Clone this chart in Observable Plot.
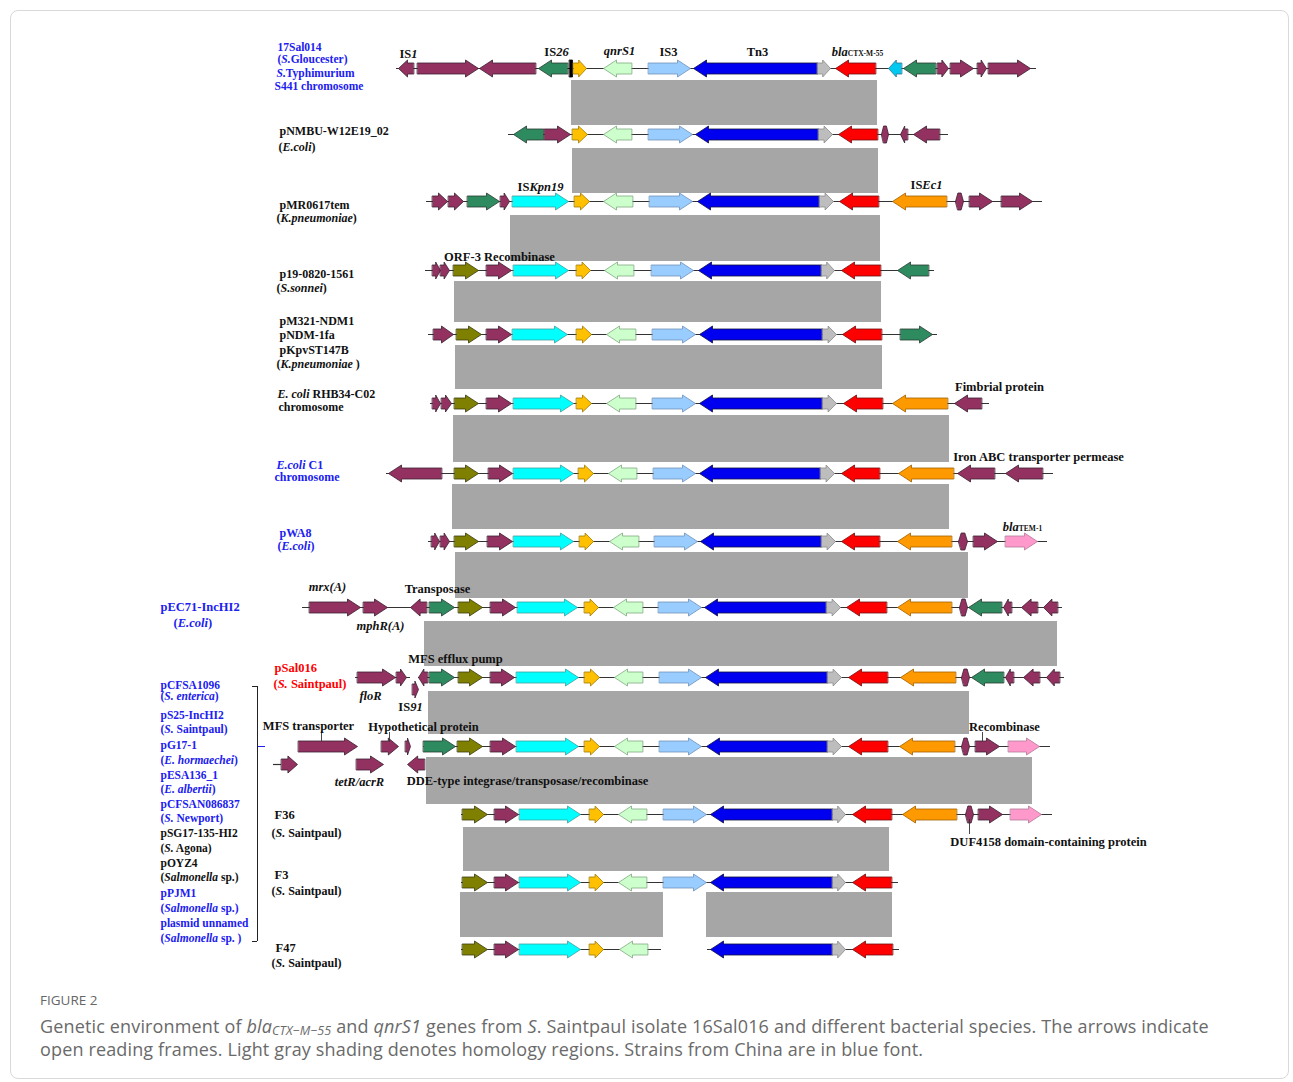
<!DOCTYPE html>
<html><head><meta charset="utf-8">
<script src="https://cdn.jsdelivr.net/npm/d3@7"></script>
<script src="https://cdn.jsdelivr.net/npm/@observablehq/plot@0.6"></script>
<style>
body{margin:0;background:#fff;}
#card{position:absolute;left:10px;top:10px;width:1279px;height:1069px;border:1px solid #d9d9d9;border-radius:8px;box-sizing:border-box;}
#chart{position:absolute;left:0;top:0;}
#fig{position:absolute;left:40px;top:992px;font-family:'Open Sans',sans-serif;font-size:13.5px;line-height:16px;color:#666;}
#cap{position:absolute;left:40px;top:1015px;font-family:'Open Sans',sans-serif;font-size:18px;letter-spacing:0.15px;line-height:23px;color:#6a6a6a;white-space:nowrap;}
#cap sub{font-size:12.5px;vertical-align:-2px;line-height:0;}
</style></head><body>
<div id="card"></div>
<div id="chart"></div>
<div id="fig">FIGURE 2</div>
<div id="cap">Genetic environment of <i>bla</i><sub><i>CTX−M−55</i></sub> and <i>qnrS1</i> genes from <i>S</i>. Saintpaul isolate 16Sal016 and different bacterial species. The arrows indicate<br>open reading frames. Light gray shading denotes homology regions. Strains from China are in blue font.</div>
<script>
// ---- track (row) positions ----
const rowY = [68, 134, 201, 270, 334, 403, 473, 541, 607, 677, 746, 814, 882, 949];

// ---- genes per row: [start, end, direction (1 right, -1 left, 2 both, 0 none), type, laneOffset] ----
const row0 = [[398,413,-1,"M"],[417,478,1,"M"],[479,535,-1,"M"],[538,567,-1,"G"],[569,572,0,"K"],[573,586,1,"Y"],[603,631,-1,"LG"],[648,690,1,"LB"],[693,817,-1,"B"],[817,830,1,"GR"],[835,875,-1,"R"],[888,901,-1,"SC"],[903,935,-1,"G"],[937,948,1,"M"],[950,973,1,"M"],[977,986,1,"M"],[988,1030,1,"M"]];
const row1 = [[513,543,-1,"G"],[544,570,1,"M"],[572,587,1,"Y"],[603,631,-1,"LG"],[648,692,1,"LB"],[695,818,-1,"B"],[818,832,1,"GR"],[838,877,-1,"R"],[881,888,2,"M"],[900,907,-1,"M"],[913,939,-1,"M"]];
const row2 = [[432,447,1,"M"],[448,463,1,"M"],[467,499,1,"G"],[500,509,1,"M"],[512,568,1,"C"],[574,589,1,"Y"],[603,632,-1,"LG"],[649,692,1,"LB"],[697,819,-1,"B"],[819,833,1,"GR"],[839,878,-1,"R"],[892,946,-1,"OR"],[955,963,2,"M"],[969,992,1,"M"],[1001,1032,1,"M"]];
const row3 = [[432,440,1,"M"],[440,449,1,"M"],[453,478,1,"O"],[486,511,1,"M"],[513,568,1,"C"],[576,590,1,"Y"],[604,633,-1,"LG"],[651,693,1,"LB"],[698,821,-1,"B"],[821,834,1,"GR"],[841,880,-1,"R"],[897,928,-1,"G"]];
const row4 = [[433,453,1,"M"],[456,481,1,"O"],[486,511,1,"M"],[512,567,1,"C"],[576,591,1,"Y"],[606,635,-1,"LG"],[652,695,1,"LB"],[699,822,-1,"B"],[822,836,1,"GR"],[842,881,-1,"R"],[900,932,1,"G"]];
const row5 = [[432,440,1,"M"],[441,451,1,"M"],[454,478,1,"O"],[486,511,1,"M"],[513,573,1,"C"],[576,591,1,"Y"],[606,635,-1,"LG"],[652,695,1,"LB"],[699,822,-1,"B"],[822,836,1,"GR"],[843,882,-1,"R"],[892,947,-1,"OR"],[954,981,-1,"M"]];
const row6 = [[388,441,-1,"M"],[454,478,1,"O"],[488,512,1,"M"],[513,573,1,"C"],[578,593,1,"Y"],[608,636,-1,"LG"],[653,695,1,"LB"],[699,820,-1,"B"],[820,834,1,"GR"],[841,879,-1,"R"],[898,953,-1,"OR"],[957,994,-1,"M"],[1005,1042,-1,"M"]];
const row7 = [[431,439,1,"M"],[440,449,1,"M"],[454,478,1,"O"],[487,512,1,"M"],[513,573,1,"C"],[579,593,1,"Y"],[609,638,-1,"LG"],[654,697,1,"LB"],[700,821,-1,"B"],[821,835,1,"GR"],[841,879,-1,"R"],[897,951,-1,"OR"],[958,967,2,"M"],[973,997,1,"M"],[1005,1037,1,"P"]];
const row8 = [[309,360,1,"M"],[363,387,1,"M"],[410,426,-1,"M"],[429,454,1,"G"],[458,482,1,"O"],[490,515,1,"M"],[517,577,1,"C"],[584,598,1,"Y"],[613,642,-1,"LG"],[658,701,1,"LB"],[704,826,-1,"B"],[826,840,1,"GR"],[846,886,-1,"R"],[897,951,-1,"OR"],[959,967,2,"M"],[968,1001,-1,"G"],[1003,1011,-1,"M"],[1021,1037,-1,"M"],[1043,1057,-1,"M"]];
const row9 = [[357,395,1,"M"],[396,406,1,"M"],[412,418,1,"M",12],[418,427,-1,"M"],[429,454,1,"G"],[458,482,1,"O"],[490,514,1,"M"],[516,578,1,"C"],[584,599,1,"Y"],[614,642,-1,"LG"],[659,701,1,"LB"],[705,827,-1,"B"],[827,841,1,"GR"],[848,887,-1,"R"],[900,955,-1,"OR"],[961,969,2,"M"],[971,1003,-1,"G"],[1005,1013,-1,"M"],[1023,1039,-1,"M"],[1046,1059,-1,"M"]];
const row10 = [[298,357,1,"M"],[381,398,1,"M"],[405,410,1,"M"],[423,455,1,"G"],[457,482,1,"O"],[490,515,1,"M"],[516,578,1,"C"],[584,599,1,"Y"],[614,642,-1,"LG"],[659,701,1,"LB"],[706,827,-1,"B"],[827,841,1,"GR"],[848,887,-1,"R"],[899,954,-1,"OR"],[961,969,2,"M"],[975,999,1,"M"],[1008,1039,1,"P"],[281,297,1,"M",18],[356,383,1,"M",18],[407,424,-1,"M",18]];
const row11 = [[462,487,1,"O"],[494,518,1,"M"],[519,580,1,"C"],[589,603,1,"Y"],[618,646,-1,"LG"],[663,706,1,"LB"],[710,832,-1,"B"],[832,845,1,"GR"],[852,891,-1,"R"],[902,956,-1,"OR"],[965,973,2,"M"],[978,1002,1,"M"],[1010,1041,1,"P"]];
const row12 = [[462,487,1,"O"],[494,518,1,"M"],[519,580,1,"C"],[589,603,1,"Y"],[618,646,-1,"LG"],[663,706,1,"LB"],[710,832,-1,"B"],[832,845,1,"GR"],[852,891,-1,"R"]];
const row13 = [[462,487,1,"O"],[494,518,1,"M"],[519,580,1,"C"],[589,603,1,"Y"],[619,647,-1,"LG"],[710,832,-1,"B"],[832,845,1,"GR"],[852,892,-1,"R"]];
const rows = [row0,row1,row2,row3,row4,row5,row6,row7,row8,row9,row10,row11,row12,row13];

// ---- backbone segments: [row, from, to, laneOffset] ----
const backbones = [[0,396,1036],[1,508,948],[2,426,1042],[3,425,934],[4,428,937],[5,430,989],[6,386,1053],[7,428,1047],[8,302,1062],[9,355,410],[9,418,1064],[10,423,1050],[10,273,281,18],[11,461,1052],[12,461,898],[13,461,661],[13,707,899]];

// ---- homology regions: [top, bottom, from, to] ----
const homology = [[80,125,571,877],[148,193,572,878],[215,261,510,880],[281,322,454,881],[345,389,455,882],[415,462,453,949],[484,529,452,949],[552,598,455,968],[621,666,424,1057],[691,734,428,969],[757,804,426,1032],[827,871,463,889],[892,937,460,663],[892,937,706,892]];

// ---- gene type palette ----
const typeNames = ["M","G","Y","LG","LB","B","GR","R","C","SC","O","OR","P","K"];
const typeFill = ["#933261","#2e8b60","#ffc000","#ccffcc","#99ccff","#0000f0","#bdbdbd","#ff0000","#00ffff","#00c8ee","#808000","#ff9900","#ff99cc","#000000"];
const typeStroke = ["#3a2030","#2a3a30","#a07a00","#80a880","#6f92b8","#101040","#8a8a8a","#701010","#40a0a0","#307090","#3a3a10","#a06000","#b07898","#000000"];

// ---- strain labels: [text, x, y, color, size] ----
const strainText = ["17Sal014","(<i>S.</i>Gloucester)","<i>S.</i>Typhimurium","S441 chromosome","pNMBU-W12E19_02","(<i>E.coli</i>)","pMR0617tem","(<i>K.pneumoniae</i>)","p19-0820-1561","(<i>S.sonnei</i>)","pM321-NDM1","pNDM-1fa","pKpvST147B","(<i>K.pneumoniae</i> )","<i>E. coli</i> RHB34-C02","chromosome","<i>E.coli</i> C1","chromosome","pWA8","(<i>E.coli</i>)","pEC71-IncHI2","(<i>E.coli</i>)","pSal016","(<i>S.</i> Saintpaul)","F36","(<i>S.</i> Saintpaul)","F3","(<i>S.</i> Saintpaul)","F47","(<i>S.</i> Saintpaul)"];
const strainX = [277,277,276,274,279,278,279,276,279,276,279,279,279,276,277,278,276,274,279,277,160,173,274,273,274,271,274,271,275,271];
const strainY = [46.5,59,72.5,86,131,147,205,218,274,288,321,335,350,364,394,407,465,477,533,546,606,622,667,683,814,833,874,891,947,963];
const strainColor = ["b","b","b","b","k","k","k","k","k","k","k","k","k","k","k","k","b","b","b","b","b","b","r","r","k","k","k","k","k","k"];
const strainSize = [11.5,11.5,11.5,11.5,12,12,12,12,12,12,12,12,12,12,12,12,12,12,12,12,12.5,12.5,12.5,12.5,12.5,12,12.5,12,12.5,12];

// ---- grouped plasmids (share the pCFSA1096 track) ----
const groupText = ["pCFSA1096","(<i>S. enterica</i>)","pS25-IncHI2","(<i>S.</i> Saintpaul)","pG17-1","(<i>E. hormaechei</i>)","pESA136_1","(<i>E. albertii</i>)","pCFSAN086837","(<i>S.</i> Newport)","pSG17-135-HI2","(<i>S.</i> Agona)","pOYZ4","(<i>Salmonella</i> sp.)","pPJM1","(<i>Salmonella</i> sp.)","plasmid unnamed","(<i>Salmonella</i> sp. )"];
const groupY = [685,696,715,729,745,760,775,789,804,818,833,848,863,877,893,908,923,938];
const groupColor = ["b","b","b","b","b","b","b","b","b","b","k","k","k","k","b","b","b","b"];

// ---- gene annotations: [text, x, y] ----
const geneText = ["IS<i>1</i>","IS<i>26</i>","<i>qnrS1</i>","IS3","Tn3","<i>bla</i><s>CTX-M-55</s>","IS<i>Kpn19</i>","IS<i>Ec1</i>","ORF-3","Recombinase","Fimbrial protein","Iron ABC transporter permease","<i>bla</i><s>TEM-1</s>","<i>mrx(A)</i>","Transposase","<i>mphR(A)</i>","MFS efflux pump","<i>floR</i>","IS<i>91</i>","MFS transporter","Hypothetical protein","Recombinase","<i>tetR/acrR</i>","DDE-type integrase/transposase/recombinase","DUF4158 domain-containing protein"];
const geneX = [408,556,619,668,757,857,540,926,462,519,999,1038,1022,327,437,380,455,370,410,308,423,1004,359,527,1048];
const geneY = [53,51,50,51,51,51,186,184,256,256,386,456,526,586,588,625,658,695,706,725,726,726,781,780,841];

// ---- leader lines: [x, top, bottom] ----
const leaders = [[321,731,741],[389,732,742],[982,732,741],[969,819,834]];

// ---- build geometry from data ----
const HB = 5.5, HH = 8.5;
const verts = [];
rows.forEach((r, i) => r.forEach((g, j) => {
  const [s, e, dir, type, lane = 0] = g;
  const y0 = rowY[i] + lane, len = e - s;
  let p;
  if (dir === 1) { const L = Math.min(13, len * 0.6); p = [[s,-HB],[e-L,-HB],[e-L,-HH],[e,0],[e-L,HH],[e-L,HB],[s,HB]]; }
  else if (dir === -1) { const L = Math.min(13, len * 0.6); p = [[e,-HB],[s+L,-HB],[s+L,-HH],[s,0],[s+L,HH],[s+L,HB],[e,HB]]; }
  else if (dir === 2) { const L = len * 0.3; p = [[s,0],[s+L,-HH],[e-L,-HH],[e,0],[e-L,HH],[s+L,HH]]; }
  else { p = [[s,-HH],[e,-HH],[e,HH],[s,HH]]; }
  const k = typeNames.indexOf(type);
  p.forEach(([x, dy]) => verts.push({id: `${i}-${j}`, x, y: y0 + dy, fill: typeFill[k], stroke: typeStroke[k]}));
}));
const colorOf = {b: "#2020f0", k: "#111111", r: "#ff0000"};
const lines = backbones.map(([r, a, b, lane = 0]) => ({y: rowY[r] + lane, x1: a, x2: b}));
const bands = homology.map(([t, b, a, c]) => ({y1: t, y2: b, x1: a, x2: c}));
const strains = strainText.map((t, i) => ({text: t, x: strainX[i], y: strainY[i], fill: colorOf[strainColor[i]], size: strainSize[i]}));
const group = groupText.map((t, i) => ({text: t, x: 160, y: groupY[i], fill: colorOf[groupColor[i]]}));
const genesLab = geneText.map((t, i) => ({text: t, x: geneX[i], y: geneY[i]}));
const lead = leaders.map(([x, a, b]) => ({x, y1: a, y2: b}));
const bracketTop = groupY[0] + 1, bracketBottom = groupY[groupY.length - 1] + 3;

const serif = "'Liberation Serif','Times New Roman',serif";
const chart = Plot.plot({
  width: 1293, height: 985, margin: 0,
  x: {domain: [0, 1293], range: [0, 1293], axis: null},
  y: {domain: [0, 985], range: [0, 985], axis: null},
  color: {type: "identity"},
  style: {background: "transparent", overflow: "visible"},
  marks: [
    Plot.rect(bands, {x1: "x1", x2: "x2", y1: "y1", y2: "y2", fill: "#a6a6a6"}),
    Plot.ruleY(lines, {y: "y", x1: "x1", x2: "x2", stroke: "#333", strokeWidth: 1.2}),
    Plot.line(verts, {x: "x", y: "y", z: "id", fill: "fill", stroke: "stroke", strokeWidth: 0.8, curve: "linear-closed"}),
    Plot.ruleX(lead, {x: "x", y1: "y1", y2: "y2", stroke: "#333", strokeWidth: 0.9}),
    Plot.ruleX([257], {y1: bracketTop, y2: bracketBottom, stroke: "#222", strokeWidth: 1}),
    Plot.ruleY([bracketTop, bracketBottom], {x1: 252, x2: 257, stroke: "#222", strokeWidth: 1}),
    Plot.ruleY([rowY[10]], {x1: 258, x2: 265, stroke: "#2020f0", strokeWidth: 1}),
    Plot.text(strains, {x: "x", y: "y", text: "text", fill: "fill", fontSize: "size", textAnchor: "start", fontWeight: "bold", fontFamily: serif}),
    Plot.text(group, {x: "x", y: "y", text: "text", fill: "fill", fontSize: 11.5, textAnchor: "start", fontWeight: "bold", fontFamily: serif}),
    Plot.text(genesLab, {x: "x", y: "y", text: "text", fill: "#111", fontSize: 12.5, textAnchor: "middle", fontWeight: "bold", fontFamily: serif})
  ]
});
// rich text: <i>..</i> italic, <s>..</s> small
chart.querySelectorAll("text").forEach(t => {
  const s = t.textContent;
  if (!s.includes("<")) return;
  t.textContent = "";
  const re = /<(i|s)>(.*?)<\/\1>|([^<]+)/g;
  let m;
  while ((m = re.exec(s))) {
    const ts = document.createElementNS("http://www.w3.org/2000/svg", "tspan");
    if (m[1] === "i") { ts.setAttribute("font-style", "italic"); ts.textContent = m[2]; }
    else if (m[1] === "s") { ts.setAttribute("font-size", "7.5"); ts.textContent = m[2]; }
    else ts.textContent = m[3];
    t.appendChild(ts);
  }
});
document.getElementById("chart").appendChild(chart);
</script>
</body></html>
